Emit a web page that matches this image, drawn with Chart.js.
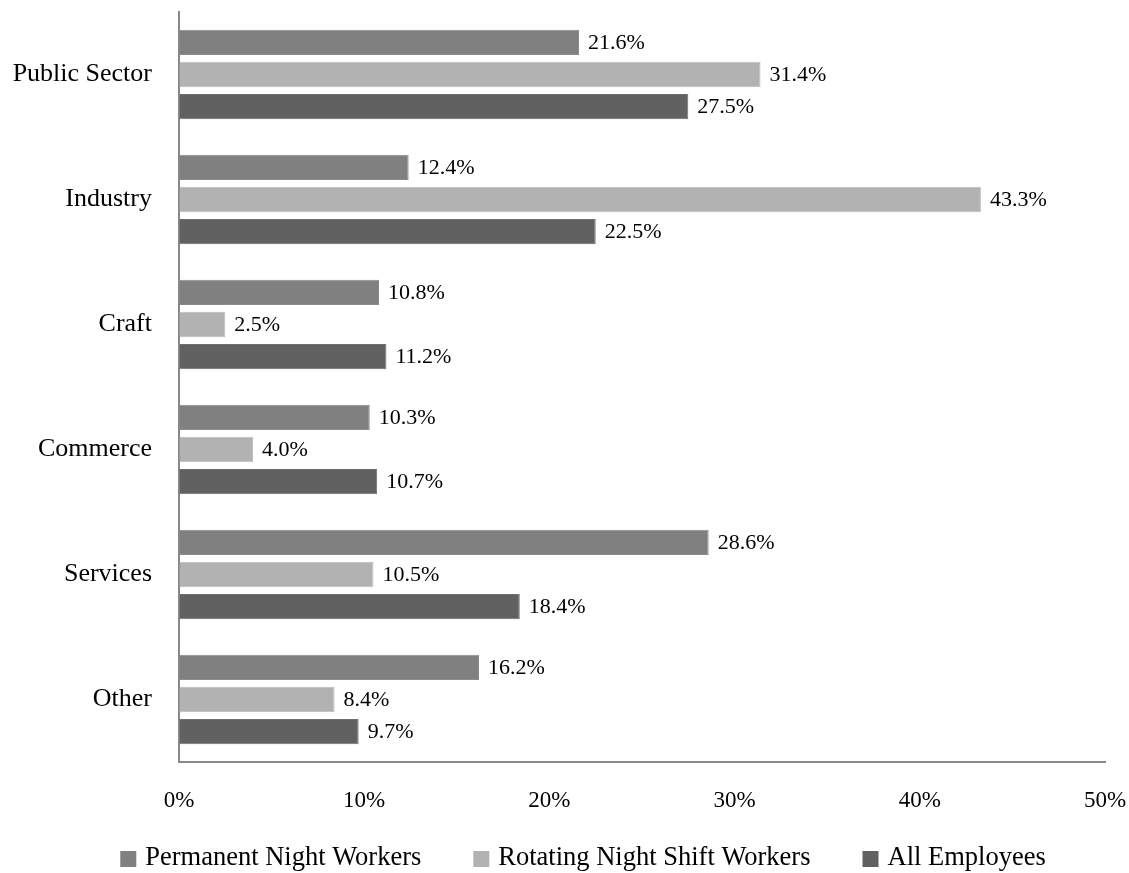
<!DOCTYPE html>
<html>
<head>
<meta charset="utf-8">
<script src="https://cdn.jsdelivr.net/npm/chart.js@4.4.0/dist/chart.umd.min.js"></script>
<style>
html,body{margin:0;padding:0;background:#fff;}
#wrap{width:1129px;height:873px;position:relative;}
</style>
</head>
<body>
<div id="wrap"><canvas id="c" width="1129" height="873"></canvas></div>
<script>
const categories = ["Public Sector", "Industry", "Craft", "Commerce", "Services", "Other"];
const seriesNames = ["Permanent Night Workers", "Rotating Night Shift Workers", "All Employees"];
const permanent = [21.6, 12.4, 10.8, 10.3, 28.6, 16.2];
const rotating = [31.4, 43.3, 2.5, 4.0, 10.5, 8.4];
const allEmployees = [27.5, 22.5, 11.2, 10.7, 18.4, 9.7];
const xTicks = [0, 10, 20, 30, 40, 50];
const colors = ['#808080', '#b2b2b2', '#616161'];

const FONT = "'Liberation Serif', 'Times New Roman', serif";

const valueLabels = {
  id: 'valueLabels',
  afterDatasetsDraw(chart) {
    const ctx = chart.ctx;
    ctx.save();
    ctx.font = "22px " + FONT;
    ctx.fillStyle = "#000";
    ctx.textAlign = "left";
    ctx.textBaseline = "middle";
    chart.data.datasets.forEach((ds, i) => {
      const meta = chart.getDatasetMeta(i);
      meta.data.forEach((bar, j) => {
        ctx.fillText(ds.data[j].toFixed(1) + "%", bar.x + 9, bar.y + 1);
      });
    });
    ctx.restore();
  }
};

const customLegend = {
  id: 'customLegend',
  afterDraw(chart) {
    const ctx = chart.ctx;
    ctx.save();
    ctx.font = "26.5px " + FONT;
    ctx.textBaseline = "middle";
    ctx.textAlign = "left";
    const box = 16, gapText = 9, gapItem = 52;
    const items = chart.data.datasets.map(ds => ({ label: ds.label, color: ds.backgroundColor, w: ctx.measureText(ds.label).width }));
    const total = items.reduce((s, it) => s + box + gapText + it.w, 0) + gapItem * (items.length - 1);
    let x = 583 - total / 2;
    const yc = 858;
    items.forEach(it => {
      ctx.fillStyle = it.color;
      ctx.fillRect(x, yc - 7, box, box);
      ctx.fillStyle = '#000';
      ctx.fillText(it.label, x + box + gapText, yc);
      x += box + gapText + it.w + gapItem;
    });
    ctx.restore();
  }
};

function noPad(scale) {
  scale.paddingTop = 0; scale.paddingBottom = 0;
  scale.paddingLeft = 0; scale.paddingRight = 0;
}

new Chart(document.getElementById('c'), {
  type: 'bar',
  data: {
    labels: categories,
    datasets: [
      { label: seriesNames[0], data: permanent, backgroundColor: colors[0], borderColor: '#8c8c8c', borderWidth: 1 },
      { label: seriesNames[1], data: rotating, backgroundColor: colors[1], borderColor: '#bcbcbc', borderWidth: 1 },
      { label: seriesNames[2], data: allEmployees, backgroundColor: colors[2], borderColor: '#6e6e6e', borderWidth: 1 }
    ]
  },
  options: {
    indexAxis: 'y',
    responsive: false,
    animation: false,
    devicePixelRatio: 1,
    categoryPercentage: 0.77,
    barPercentage: 0.79,
    layout: { padding: { top: 12, left: 0, right: 24, bottom: 49 } },
    scales: {
      x: {
        min: 0, max: 50,
        afterBuildTicks(scale) { scale.ticks = xTicks.map(v => ({ value: v })); },
        afterFit(scale) { scale.height = 62; noPad(scale); },
        grid: { display: true, color: 'rgba(0,0,0,0)', drawTicks: false },
        border: { display: true, color: '#888888', width: 2 },
        ticks: {
          padding: 25,
          color: '#000',
          font: { family: FONT, size: 23 },
          callback: v => v + '%'
        }
      },
      y: {
        afterFit(scale) { scale.width = 179; noPad(scale); },
        grid: { display: true, color: 'rgba(0,0,0,0)', drawTicks: false },
        border: { display: true, color: '#888888', width: 2 },
        ticks: {
          padding: 27,
          color: '#000',
          font: { family: FONT, size: 26 }
        }
      }
    },
    plugins: {
      legend: { display: false },
      tooltip: { enabled: false }
    }
  },
  plugins: [valueLabels, customLegend]
});
</script>
</body>
</html>
